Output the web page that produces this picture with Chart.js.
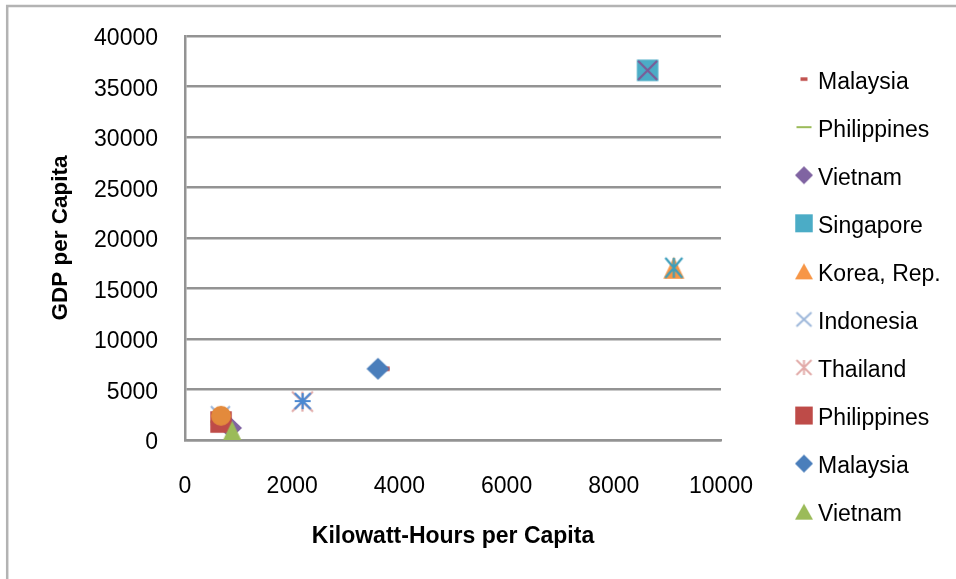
<!DOCTYPE html>
<html>
<head>
<meta charset="utf-8">
<script src="https://cdn.jsdelivr.net/npm/chart.js@4.4.1/dist/chart.umd.min.js"></script>
<style>
  html, body { margin: 0; padding: 0; background: #ffffff; overflow: hidden; }
  canvas { display: block; }
</style>
</head>
<body>
<canvas id="chart" width="956" height="579"></canvas>
<script>
// Electricity use vs. income, one scatter series per country entry
const seriesNames = [
  'Malaysia', 'Philippines', 'Vietnam', 'Singapore', 'Korea, Rep.',
  'Indonesia', 'Thailand', 'Philippines', 'Malaysia', 'Vietnam',
  'Indonesia', 'Singapore', 'Korea, Rep.', 'Thailand'
];
const kwhPerCapita = [3725, 640, 850, 8630, 9120, 660, 2190, 672, 3600, 880, 672, 8630, 9120, 2195];
const gdpPerCapita = [7050, 1800, 1190, 36600, 17050, 2400, 3800, 1780, 7050, 800, 2400, 36600, 17050, 3850];
const xTicks = [0, 2000, 4000, 6000, 8000, 10000];
const yTicks = [0, 5000, 10000, 15000, 20000, 25000, 30000, 35000, 40000];
const legendSeriesCount = 10;

// Marker styling per series
const markerShapes = ['dash', 'line', 'diamond', 'square', 'triangle', 'x', 'asterisk',
                      'square', 'diamond', 'triangle', 'circle', 'x', 'asterisk', 'star'];
const markerColors = ['#C0504D', '#9BBB59', '#8064A2', '#4BACC6', '#F79646', '#9DB7DA', '#E2ABA9',
                      '#BE4B48', '#4A7EBB', '#9BBB59', '#E38A3C', '#7C5A96', '#3C9EBC', '#4A88D2'];

const FONT = "'Liberation Sans', Arial, sans-serif";
const GRID = '#939393';

function plotSize(shape, i) {
  switch (shape) {
    case 'dash': return [10, 4.5, 0];
    case 'line': return [18, 2.5, 0];
    case 'diamond': return [23, 22, 0];
    case 'square': return [21.5, 21.5, 0];
    case 'triangle': return [21, 22, 0];
    case 'circle': return [20, 20, 0];
    case 'x': return [19, 19, 2.2];
    case 'asterisk': return i < legendSeriesCount ? [21, 20, 2.2] : [17, 20, 2.2];
    case 'star': return [16, 16, 2.2];
  }
}
function legendSize(shape) {
  switch (shape) {
    case 'dash': return [7, 3.5, 0];
    case 'line': return [15, 2, 0];
    case 'diamond': return [18, 18, 0];
    case 'square': return [17.5, 18, 0];
    case 'triangle': return [18, 16, 0];
    case 'x': return [15, 14, 2];
    case 'asterisk': return [15, 15, 2];
    default: return [18, 18, 0];
  }
}

// Draw an Excel-like marker into its own small canvas
function makeMarker(shape, color, w, h, lw) {
  const pad = Math.ceil(lw) + 1;
  const c = document.createElement('canvas');
  c.width = Math.ceil(w) + pad * 2;
  c.height = Math.ceil(h) + pad * 2;
  const g = c.getContext('2d');
  const cx = c.width / 2, cy = c.height / 2, hw = w / 2, hh = h / 2;
  g.fillStyle = color;
  g.strokeStyle = color;
  g.lineWidth = lw;
  g.lineCap = 'butt';
  g.beginPath();
  switch (shape) {
    case 'square': case 'dash': case 'line':
      g.fillRect(cx - hw, cy - hh, w, h);
      break;
    case 'diamond':
      g.moveTo(cx, cy - hh); g.lineTo(cx + hw, cy); g.lineTo(cx, cy + hh); g.lineTo(cx - hw, cy);
      g.closePath(); g.fill();
      break;
    case 'triangle':
      g.moveTo(cx, cy - hh); g.lineTo(cx + hw, cy + hh); g.lineTo(cx - hw, cy + hh);
      g.closePath(); g.fill();
      break;
    case 'circle':
      g.ellipse(cx, cy, hw, hh, 0, 0, Math.PI * 2); g.fill();
      break;
    case 'x': case 'asterisk': case 'star':
      g.moveTo(cx - hw, cy - hh); g.lineTo(cx + hw, cy + hh);
      g.moveTo(cx + hw, cy - hh); g.lineTo(cx - hw, cy + hh);
      if (shape !== 'x') { g.moveTo(cx, cy - hh); g.lineTo(cx, cy + hh); }
      if (shape === 'star') { g.moveTo(cx - hw, cy); g.lineTo(cx + hw, cy); }
      g.stroke();
      break;
  }
  return c;
}

const plotMarkers = markerShapes.map((s, i) => {
  const [w, h, lw] = plotSize(s, i);
  return makeMarker(s, markerColors[i], w, h, lw);
});
const legendMarkers = markerShapes.slice(0, legendSeriesCount).map((s, i) => {
  const [w, h, lw] = legendSize(s);
  return makeMarker(s, markerColors[i], w, h, lw);
});

const datasets = seriesNames.map((name, i) => ({
  label: name,
  data: [{ x: kwhPerCapita[i], y: gdpPerCapita[i] }],
  pointStyle: plotMarkers[i],
  pointRadius: 10,
  pointHoverRadius: 10,
  showLine: false,
  order: -i
}));

// Outer frame of the chart area and white background
const framePlugin = {
  id: 'frame',
  beforeDraw(chart) {
    const ctx = chart.ctx;
    ctx.save();
    ctx.fillStyle = '#ffffff';
    ctx.fillRect(0, 0, chart.width, chart.height);
    ctx.strokeStyle = '#b3b3b3';
    ctx.lineWidth = 2.5;
    ctx.beginPath();
    ctx.moveTo(7.2, chart.height + 5);
    ctx.lineTo(7.2, 6);
    ctx.lineTo(chart.width + 5, 6);
    ctx.stroke();
    ctx.restore();
  }
};

// Legend column on the right, listing the first series entries
const legendPlugin = {
  id: 'sideLegend',
  afterDraw(chart) {
    const ctx = chart.ctx;
    const markerX = 804, textX = 818, firstY = 80.6, step = 48.06;
    ctx.save();
    ctx.font = '23px ' + FONT;
    ctx.fillStyle = '#000000';
    ctx.textAlign = 'left';
    ctx.textBaseline = 'alphabetic';
    for (let i = 0; i < legendSeriesCount; i++) {
      const y = firstY + i * step;
      const m = legendMarkers[i];
      ctx.drawImage(m, markerX - m.width / 2, y - 1.5 - m.height / 2);
      ctx.fillText(chart.data.datasets[i].label, textX, y + 8);
    }
    ctx.restore();
  }
};

Chart.defaults.font.family = FONT;

const plainNumber = (v) => String(v);

new Chart(document.getElementById('chart'), {
  type: 'scatter',
  data: { datasets },
  options: {
    responsive: false,
    animation: false,
    devicePixelRatio: 1,
    layout: { padding: { left: 0, top: 36, right: 235, bottom: 0 } },
    plugins: {
      legend: { display: false },
      tooltip: { enabled: false }
    },
    scales: {
      x: {
        type: 'linear',
        min: xTicks[0],
        max: xTicks[xTicks.length - 1],
        afterBuildTicks(scale) { scale.ticks = xTicks.map(v => ({ value: v })); },
        afterFit(scale) { scale.height = 139; },
        grid: { display: false, drawTicks: false },
        border: { display: true, color: GRID, width: 2.5 },
        ticks: { color: '#000000', font: { size: 23 }, padding: 33, maxRotation: 0, autoSkip: false, callback: plainNumber },
        title: {
          display: true,
          text: 'Kilowatt-Hours per Capita',
          color: '#000000',
          font: { size: 23, weight: 'bold' },
          padding: { top: 0, bottom: 29 }
        }
      },
      y: {
        type: 'linear',
        min: yTicks[0],
        max: yTicks[yTicks.length - 1],
        afterBuildTicks(scale) { scale.ticks = yTicks.map(v => ({ value: v })); },
        afterFit(scale) {
          scale.width = 185;
          scale.paddingTop = 0;
          scale.paddingBottom = 0;
        },
        grid: { color: GRID, lineWidth: 2.5, drawTicks: false },
        border: { display: true, color: GRID, width: 2.5 },
        ticks: { color: '#000000', font: { size: 23 }, padding: 27, labelOffset: 3, callback: plainNumber },
        title: {
          display: true,
          text: 'GDP per Capita',
          color: '#000000',
          font: { size: 22.5, weight: 'bold' },
          padding: { top: 47, bottom: 0 }
        }
      }
    }
  },
  plugins: [framePlugin, legendPlugin]
});
</script>
</body>
</html>
